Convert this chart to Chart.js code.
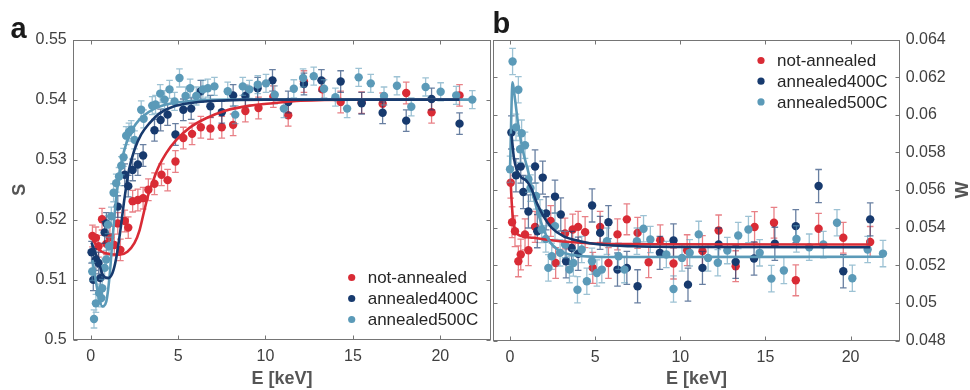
<!DOCTYPE html>
<html>
<head>
<meta charset="utf-8">
<script src="https://cdn.jsdelivr.net/npm/chart.js@4.4.1/dist/chart.umd.min.js"></script>
<style>
html, body { margin: 0; padding: 0; background: #fff; }
#wrap { position: relative; width: 970px; height: 390px; }
#wa { position: absolute; left: 0; top: 0; width: 492px; height: 390px; }
#wb { position: absolute; left: 492px; top: 0; width: 478px; height: 390px; }
</style>
</head>
<body>
<div id="wrap">
  <div id="wa"><canvas id="chart_s"></canvas></div>
  <div id="wb"><canvas id="chart_w"></canvas></div>
</div>
<script>
const series_names = ["not-annealed", "annealed400C", "annealed500C"];
const series_colors = ["#d92b35", "#173a6e", "#5b9ab8"];
const error_colors = ["rgba(217,43,53,0.6)", "rgba(23,58,110,0.65)", "rgba(91,154,184,0.6)"];

const e_ticks = [0, 5, 10, 15, 20];
const s_ticks = [0.5, 0.51, 0.52, 0.53, 0.54, 0.55];
const w_ticks = [0.048, 0.05, 0.052, 0.054, 0.056, 0.058, 0.06, 0.062, 0.064];

// panel a : S parameter
const e_red_a = [0.1, 0.3, 0.45, 0.65, 0.9, 1.1, 1.35, 1.55, 1.7, 1.95, 2.15, 2.4, 2.7, 3.0, 3.3, 3.65, 4.05, 4.4, 4.85, 5.3, 5.8, 6.3, 6.85, 7.5, 8.15, 8.85, 9.6, 10.45, 11.3, 12.2, 13.25, 14.3, 15.5, 16.7, 18.05, 19.5, 21.1];
const s_red_a = [0.5173, 0.5170, 0.5156, 0.5201, 0.5160, 0.5171, 0.5158, 0.5194, 0.5150, 0.5198, 0.5187, 0.5231, 0.5233, 0.5236, 0.5250, 0.5260, 0.5275, 0.5266, 0.5297, 0.5336, 0.5343, 0.5354, 0.5352, 0.5354, 0.5358, 0.5381, 0.5386, 0.5405, 0.5374, 0.5430, 0.5417, 0.5396, 0.5395, 0.5393, 0.5411, 0.5379, 0.5407];

const e_navy_a = [0.05, 0.15, 0.3, 0.45, 0.55, 0.8, 0.9, 1.55, 1.95, 2.15, 2.4, 2.7, 3.0, 3.65, 4.0, 4.4, 4.85, 5.3, 5.75, 6.3, 6.85, 7.5, 8.15, 8.85, 9.55, 10.4, 11.3, 12.2, 13.2, 14.3, 15.5, 16.7, 18.05, 19.5, 21.1];
const s_navy_a = [0.5146, 0.5100, 0.5134, 0.5128, 0.5103, 0.5179, 0.5194, 0.5222, 0.5275, 0.5256, 0.5283, 0.5292, 0.5307, 0.5349, 0.5366, 0.5375, 0.5342, 0.5383, 0.5385, 0.5414, 0.5389, 0.5379, 0.5407, 0.5406, 0.5419, 0.5432, 0.5396, 0.5426, 0.5432, 0.5430, 0.5394, 0.5378, 0.5365, 0.5401, 0.5360];

const e_lb_a = [0.09, 0.19, 0.3, 0.48, 0.61, 0.66, 0.8, 0.89, 0.99, 1.05, 1.18, 1.31, 1.46, 1.62, 1.75, 1.88, 2.03, 2.19, 2.32, 2.51, 2.89, 3.03, 3.52, 3.71, 3.98, 4.23, 4.51, 4.8, 5.08, 5.43, 5.69, 6.04, 6.42, 6.7, 7.08, 7.84, 8.27, 8.7, 9.08, 9.56, 10.03, 10.53, 11.05, 11.62, 12.15, 12.76, 13.35, 14.0, 14.67, 15.33, 16.02, 16.78, 17.52, 18.34, 19.16, 20.02, 20.91, 21.83];
const s_lb_a = [0.5114, 0.5035, 0.5061, 0.5078, 0.5070, 0.5086, 0.5120, 0.5134, 0.5192, 0.5156, 0.5206, 0.5245, 0.5261, 0.5272, 0.5290, 0.5304, 0.5340, 0.5346, 0.5350, 0.5333, 0.5383, 0.5368, 0.5390, 0.5392, 0.5410, 0.5400, 0.5417, 0.5397, 0.5436, 0.5406, 0.5419, 0.5406, 0.5417, 0.5419, 0.5422, 0.5414, 0.5375, 0.5422, 0.5417, 0.5425, 0.5427, 0.5408, 0.5385, 0.5418, 0.5436, 0.5439, 0.5418, 0.5404, 0.5385, 0.5437, 0.5427, 0.5406, 0.5423, 0.5388, 0.5421, 0.5413, 0.5407, 0.5400];

const err_a = [0.0018, 0.0018, 0.0015];

// fitted curves
const fit_e_red_a = [0.1, 0.5, 1.1, 1.65, 2.1, 2.5, 2.8, 3.03, 3.27, 3.56, 3.9, 4.32, 4.9, 5.65, 6.6, 7.75, 9.1, 10.4, 12, 15, 21.1];
const fit_s_red_a = [0.5168, 0.5150, 0.5143, 0.5142, 0.5147, 0.5161, 0.5183, 0.5211, 0.5239, 0.5264, 0.5289, 0.5311, 0.5333, 0.5353, 0.5369, 0.5382, 0.5390, 0.5394, 0.5398, 0.5400, 0.5400];
const fit_e_navy_a = [0.05, 0.42, 0.7, 0.99, 1.24, 1.46, 1.71, 1.94, 2.19, 2.51, 2.89, 3.37, 3.94, 4.7, 5.65, 7.2, 10, 21.1];
const fit_s_navy_a = [0.5162, 0.5133, 0.5108, 0.5103, 0.5111, 0.5136, 0.5185, 0.5237, 0.5283, 0.5317, 0.5342, 0.5361, 0.5377, 0.5388, 0.5394, 0.5398, 0.5400, 0.5400];
const fit_e_lb_a = [0.1, 0.42, 0.66, 0.89, 1.08, 1.27, 1.46, 1.65, 1.88, 2.19, 2.57, 3.03, 3.66, 4.51, 5.85, 8, 21.83];
const fit_s_lb_a = [0.5133, 0.5078, 0.5056, 0.5064, 0.5106, 0.5175, 0.5236, 0.5278, 0.5311, 0.5339, 0.5359, 0.5373, 0.5385, 0.5393, 0.5398, 0.5400, 0.5400];

// panel b : W parameter
const e_red_b = [0.04, 0.12, 0.29, 0.49, 0.63, 0.88, 1.08, 1.47, 2.39, 2.68, 3.23, 3.68, 4.0, 4.41, 4.86, 5.29, 5.78, 6.31, 6.86, 7.49, 8.14, 8.82, 9.6, 10.4, 11.3, 12.25, 13.25, 14.36, 15.5, 16.78, 18.12, 19.57, 21.15];
const w_red_b = [0.05639, 0.05429, 0.05381, 0.05221, 0.05257, 0.05364, 0.0528, 0.05404, 0.05435, 0.05212, 0.05369, 0.0539, 0.05404, 0.05376, 0.05186, 0.05404, 0.05212, 0.05364, 0.05444, 0.05372, 0.05216, 0.05333, 0.05209, 0.0528, 0.05275, 0.05385, 0.05195, 0.05403, 0.05426, 0.0512, 0.05394, 0.05346, 0.05324];

const e_navy_b = [0.08, 0.35, 0.63, 0.78, 1.08, 1.47, 1.6, 1.92, 2.12, 2.64, 2.98, 3.29, 3.62, 4.0, 4.82, 5.29, 5.78, 6.31, 6.86, 7.49, 8.8, 9.6, 10.45, 11.3, 12.25, 13.25, 14.33, 15.55, 16.78, 18.12, 19.57, 21.15];
const w_navy_b = [0.05906, 0.05678, 0.05725, 0.05589, 0.05486, 0.05725, 0.05381, 0.05666, 0.05476, 0.05565, 0.0547, 0.05221, 0.05292, 0.05261, 0.05518, 0.05372, 0.05429, 0.05177, 0.05186, 0.05088, 0.05266, 0.05332, 0.05097, 0.05186, 0.0531, 0.05218, 0.05236, 0.05314, 0.05408, 0.05621, 0.05168, 0.05444];

const e_lb_b = [0.0, 0.15, 0.35, 0.49, 0.59, 0.68, 0.88, 1.08, 1.2, 1.53, 1.76, 1.86, 2.1, 2.25, 2.45, 2.64, 2.94, 3.23, 3.49, 3.72, 3.96, 4.21, 4.51, 4.81, 5.1, 5.39, 5.69, 6.37, 6.72, 7.45, 7.84, 8.24, 9.18, 9.6, 10.1, 10.55, 11.08, 11.63, 12.2, 12.76, 13.4, 14.0, 14.66, 15.35, 16.08, 16.82, 17.57, 18.4, 19.2, 20.1, 21.0, 21.9];
const w_lb_b = [0.0571, 0.06283, 0.05933, 0.06133, 0.05817, 0.05902, 0.05838, 0.05657, 0.0561, 0.05568, 0.05479, 0.0539, 0.0534, 0.05186, 0.05248, 0.05408, 0.05266, 0.0531, 0.05177, 0.05212, 0.0507, 0.05284, 0.05115, 0.05221, 0.05159, 0.05177, 0.05328, 0.05248, 0.05177, 0.05328, 0.05394, 0.05337, 0.05257, 0.05074, 0.05239, 0.05266, 0.05364, 0.05239, 0.05213, 0.05278, 0.05358, 0.0539, 0.05266, 0.05129, 0.05172, 0.0534, 0.05296, 0.0531, 0.05426, 0.05131, 0.05284, 0.05262];

const err_b = [0.00082, 0.00088, 0.0007];

const fit_e_red_b = [0.04, 0.1, 0.2, 0.39, 0.68, 1.37, 2.94, 4.9, 8, 21.15];
const fit_w_red_b = [0.0564, 0.05532, 0.05426, 0.05372, 0.05355, 0.05346, 0.05328, 0.05316, 0.05312, 0.0531];
const fit_e_navy_b = [0.08, 0.24, 0.59, 0.98, 1.27, 1.57, 1.96, 2.45, 3.13, 4.11, 5.29, 7.25, 10.8, 21.15];
const fit_w_navy_b = [0.0590, 0.05764, 0.05675, 0.05648, 0.05604, 0.05532, 0.05461, 0.05399, 0.05355, 0.05328, 0.0531, 0.05301, 0.05297, 0.05296];
const fit_e_lb_b = [0.0, 0.15, 0.29, 0.49, 0.78, 1.08, 1.37, 1.76, 2.25, 2.94, 3.92, 5.88, 21.9];
const fit_w_lb_b = [0.0571, 0.06172, 0.06084, 0.05941, 0.05799, 0.05693, 0.05568, 0.05444, 0.05337, 0.05275, 0.05252, 0.05244, 0.05245];

const FONT = "'Liberation Sans', Arial, Helvetica, sans-serif";
const AXIS_COLOR = "#757575";
const TICK_COLOR = "#404040";
const TITLE_COLOR = "#555555";

function pairs(xs, ys) {
    return xs.map(function (x, i) { return {x: x, y: ys[i]}; });
}

function fmt(v) {
    return String(+Number(v).toFixed(3));
}

// error bars, drawn just before the points of their dataset
const errorBars = {
    id: "errorBars",
    beforeDatasetDraw(chart, args) {
        const ds = chart.data.datasets[args.index];
        if (!ds.err) return;
        const ctx = chart.ctx, a = chart.chartArea;
        const ys = chart.scales[args.meta.yAxisID];
        ctx.save();
        ctx.beginPath();
        ctx.rect(a.left, a.top, a.right - a.left, a.bottom - a.top);
        ctx.clip();
        ctx.strokeStyle = ds.errColor;
        ctx.lineWidth = 1.3;
        ctx.beginPath();
        args.meta.data.forEach(function (pt, i) {
            const v = ds.data[i].y;
            const y1 = ys.getPixelForValue(v - ds.err);
            const y2 = ys.getPixelForValue(v + ds.err);
            ctx.moveTo(pt.x, y1); ctx.lineTo(pt.x, y2);
            ctx.moveTo(pt.x - 3.3, y1); ctx.lineTo(pt.x + 3.3, y1);
            ctx.moveTo(pt.x - 3.3, y2); ctx.lineTo(pt.x + 3.3, y2);
        });
        ctx.stroke();
        ctx.restore();
    }
};

// matlab style box with inward ticks, legend in the axes, panel letter
const boxAndLegend = {
    id: "boxAndLegend",
    beforeDatasetsDraw(chart) {
        const ctx = chart.ctx, a = chart.chartArea;
        const xs = chart.scales.x, ys = chart.scales.y;
        const L = Math.round(a.left) + 0.5, R = Math.round(a.right) - 0.5;
        const T = Math.round(a.top) + 0.5, B = Math.round(a.bottom) - 0.5;
        ctx.save();
        ctx.strokeStyle = AXIS_COLOR;
        ctx.lineWidth = 1;
        ctx.strokeRect(L, T, R - L, B - T);
        ctx.beginPath();
        xs.ticks.forEach(function (t) {
            const p = Math.round(xs.getPixelForValue(t.value)) + 0.5;
            ctx.moveTo(p, B); ctx.lineTo(p, B - 4);
            ctx.moveTo(p, T); ctx.lineTo(p, T + 4);
        });
        ys.ticks.forEach(function (t) {
            const p = Math.round(ys.getPixelForValue(t.value)) + 0.5;
            ctx.moveTo(L, p); ctx.lineTo(L + 4, p);
            ctx.moveTo(R, p); ctx.lineTo(R - 4, p);
        });
        ctx.stroke();
        ctx.restore();
    },
    afterDraw(chart, args, opts) {
        const ctx = chart.ctx;
        ctx.save();
        // legend
        ctx.font = "17px " + FONT;
        ctx.textBaseline = "middle";
        ctx.textAlign = "left";
        series_names.forEach(function (name, i) {
            const y = opts.legendY + i * opts.legendDy;
            ctx.fillStyle = series_colors[i];
            ctx.beginPath();
            ctx.arc(opts.legendX, y, 3.6, 0, 2 * Math.PI);
            ctx.fill();
            ctx.fillStyle = "#262626";
            ctx.fillText(name, opts.legendX + 16, y + 1);
        });
        // panel letter
        ctx.font = "bold 29px " + FONT;
        ctx.textBaseline = "alphabetic";
        ctx.fillStyle = "#1a1a1a";
        ctx.fillText(opts.letter, opts.letterX, opts.letterY);
        // rotated axis title drawn by hand (right hand axis)
        if (opts.sideTitle) {
            ctx.translate(opts.sideX, opts.sideY);
            ctx.rotate(-Math.PI / 2);
            ctx.font = "bold 18px " + FONT;
            ctx.fillStyle = TITLE_COLOR;
            ctx.textAlign = "center";
            ctx.textBaseline = "middle";
            ctx.fillText(opts.sideTitle, 0, 0);
        }
        ctx.restore();
    }
};

function make_datasets(es, vs, fe, fv, errs) {
    const sets = [];
    for (let i = 0; i < 3; i++) {
        sets.push({
            type: "line",
            label: series_names[i] + " fit",
            data: pairs(fe[i], fv[i]),
            borderColor: series_colors[i],
            borderWidth: 2.6,
            pointRadius: 0,
            cubicInterpolationMode: "monotone",
            fill: false,
            order: [2, 0, 1][i]
        });
    }
    for (let i = 0; i < 3; i++) {
        sets.push({
            type: "scatter",
            label: series_names[i],
            data: pairs(es[i], vs[i]),
            backgroundColor: series_colors[i],
            borderWidth: 0,
            pointRadius: 4.2,
            err: errs[i],
            errColor: error_colors[i],
            order: [5, 4, 3][i]
        });
    }
    return sets;
}

function x_axis(height) {
    return {
        type: "linear",
        min: -1,
        max: 22.9,
        afterBuildTicks: function (s) { s.ticks = e_ticks.map(function (v) { return {value: v}; }); },
        afterFit: function (s) { s.height = height; s.paddingLeft = 0; s.paddingRight = 0; },
        grid: {display: false, drawTicks: false},
        border: {display: false},
        ticks: {padding: 7.4, color: TICK_COLOR, font: {family: FONT, size: 16}, autoSkip: false, maxRotation: 0, callback: fmt},
        title: {display: true, text: "E [keV]", color: TITLE_COLOR, font: {family: FONT, size: 18, weight: "bold"}, padding: {top: 0, bottom: 0}}
    };
}

function chart_s() {
    new Chart(document.getElementById("chart_s"), {
        type: "scatter",
        data: {
            datasets: make_datasets(
                [e_red_a, e_navy_a, e_lb_a], [s_red_a, s_navy_a, s_lb_a],
                [fit_e_red_a, fit_e_navy_a, fit_e_lb_a], [fit_s_red_a, fit_s_navy_a, fit_s_lb_a],
                err_a)
        },
        options: {
            responsive: true,
            maintainAspectRatio: false,
            animation: false,
            layout: {autoPadding: false, padding: {top: 39.5, right: 1, bottom: 0, left: 0}},
            scales: {
                x: x_axis(50),
                y: {
                    type: "linear",
                    min: 0.5,
                    max: 0.55,
                    afterBuildTicks: function (s) { s.ticks = s_ticks.map(function (v) { return {value: v}; }); },
                    afterFit: function (s) { s.width = 73.2; s.paddingTop = 0; s.paddingBottom = 0; },
                    grid: {display: false, drawTicks: false},
                    border: {display: false},
                    ticks: {padding: 6.5, color: TICK_COLOR, font: {family: FONT, size: 16}, callback: fmt},
                    title: {display: true, text: "S", color: TITLE_COLOR, font: {family: FONT, size: 18, weight: "bold"}, padding: {top: 9.7, bottom: 0}}
                }
            },
            plugins: {
                legend: {display: false},
                tooltip: {enabled: false},
                boxAndLegend: {legendX: 351.7, legendY: 277.5, legendDy: 21, letter: "a", letterX: 10.5, letterY: 38.3}
            }
        },
        plugins: [errorBars, boxAndLegend]
    });
}

function chart_w() {
    new Chart(document.getElementById("chart_w"), {
        type: "scatter",
        data: {
            datasets: make_datasets(
                [e_red_b, e_navy_b, e_lb_b], [w_red_b, w_navy_b, w_lb_b],
                [fit_e_red_b, fit_e_navy_b, fit_e_lb_b], [fit_w_red_b, fit_w_navy_b, fit_w_lb_b],
                err_b)
        },
        options: {
            responsive: true,
            maintainAspectRatio: false,
            animation: false,
            layout: {autoPadding: false, padding: {top: 39.5, right: 0, bottom: 0, left: 1}},
            scales: {
                x: x_axis(49.5),
                y: {
                    type: "linear",
                    position: "right",
                    min: 0.048,
                    max: 0.064,
                    afterBuildTicks: function (s) { s.ticks = w_ticks.map(function (v) { return {value: v}; }); },
                    afterFit: function (s) { s.width = 70; s.paddingTop = 0; s.paddingBottom = 0; },
                    grid: {display: false, drawTicks: false},
                    border: {display: false},
                    ticks: {padding: 5.7, color: TICK_COLOR, font: {family: FONT, size: 16}, callback: fmt}
                }
            },
            plugins: {
                legend: {display: false},
                tooltip: {enabled: false},
                boxAndLegend: {legendX: 269, legendY: 60.5, legendDy: 20.7, letter: "b", letterX: 0.5, letterY: 33.3,
                               sideTitle: "W", sideX: 471, sideY: 190}
            }
        },
        plugins: [errorBars, boxAndLegend]
    });
}

chart_s();
chart_w();
</script>
</body>
</html>
